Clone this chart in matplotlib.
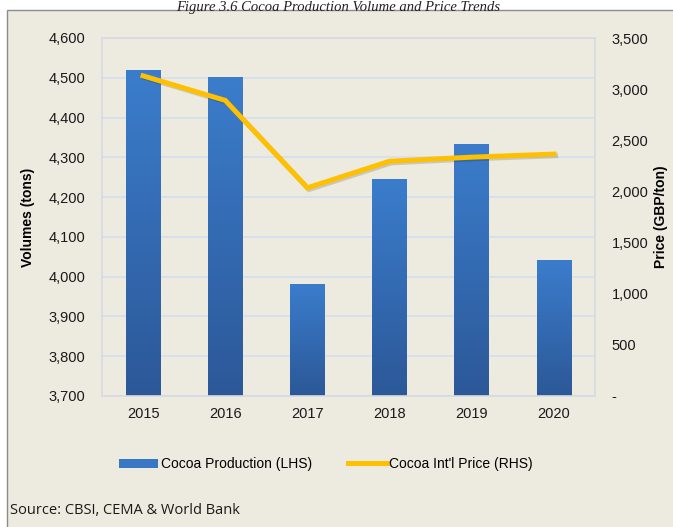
import matplotlib
matplotlib.use("Agg")
import matplotlib.pyplot as plt
import matplotlib.patheffects as pe
from matplotlib.patches import Rectangle
from matplotlib.ticker import FuncFormatter
import numpy as np

years = ["2015", "2016", "2017", "2018", "2019", "2020"]
production = [4520, 4502, 3982, 4246, 4334, 4042]
price = [3130, 2890, 2035, 2295, 2335, 2365]

BG = "#edeae0"
GRID = "#d3def0"
FRAME = "#d6dbe2"
LINE = "#ffc000"

plt.rcParams["font.family"] = ["Liberation Sans", "DejaVu Sans"]

fig = plt.figure(figsize=(6.73, 5.27), dpi=100, facecolor="white")
# outer chart box
fig.patches.append(Rectangle((7 / 673, -0.01), 1.0, (527 - 10) / 527 + 0.01,
                             transform=fig.transFigure, facecolor=BG,
                             edgecolor="#8c8c8c", linewidth=1.0, zorder=-5))
fig.text(0.502, 1.0 - 7 / 527, "Figure 3.6 Cocoa Production Volume and Price Trends",
         ha="center", va="center", fontsize=10.5, style="italic",
         family="Liberation Serif", color="#222222")

ax = fig.add_axes([102 / 673, 1 - 396 / 527, (595 - 102) / 673, (396 - 38) / 527])
ax.set_facecolor(BG)
x = np.arange(len(years))
bars = ax.bar(x, production, width=0.42, color="#3877c4", zorder=2)

# vertical gradient inside each bar
grad = np.linspace(0, 1, 256).reshape(-1, 1)
cmap = matplotlib.colors.LinearSegmentedColormap.from_list("b", ["#2c5898", "#3b7dcc"])
for b in bars:
    x0 = b.get_x()
    im = ax.imshow(grad, extent=(x0, x0 + b.get_width(), 3700, b.get_height()),
                   origin="lower", aspect="auto", cmap=cmap, zorder=2.1)
    im.set_clip_path(b)

ax.set_xlim(-0.5, len(years) - 0.5)
ax.set_ylim(3700, 4600)
ax.set_yticks(np.arange(3700, 4601, 100))
ax.yaxis.set_major_formatter(FuncFormatter(lambda v, p: f"{v:,.0f}"))
ax.set_xticks(x)
ax.set_xticklabels(years)
ax.grid(axis="y", color=GRID, linewidth=1.2, zorder=0)
for s in ax.spines.values():
    s.set_color(FRAME)
    s.set_linewidth(1.2)
ax.tick_params(length=0, labelsize=10.5, colors="#1a1a1a")
ax.tick_params(axis="y", pad=12)
ax.tick_params(axis="x", pad=8)
ax.set_ylabel("Volumes (tons)", fontsize=10, fontweight="bold")
ax.yaxis.set_label_coords(-0.136, 0.5)

ax2 = ax.twinx()
ax2.plot(x, price, color=LINE, linewidth=3.6, solid_joinstyle="miter", zorder=3,
         path_effects=[pe.SimpleLineShadow(offset=(1.2, -1.2), alpha=0.15),
                       pe.Normal()])
ax2.set_ylim(0, 3500)
ax2.set_yticks(np.arange(0, 3501, 500))
ax2.yaxis.set_major_formatter(FuncFormatter(lambda v, p: "-" if v == 0 else f"{v:,.0f}"))
ax2.tick_params(length=0, labelsize=10.5, colors="#1a1a1a", pad=12)
for s in ax2.spines.values():
    s.set_visible(False)
ax2.set_ylabel("Price (GBP/ton)", fontsize=10, fontweight="bold", rotation=90,
               va="center")
ax2.yaxis.set_label_coords(1.134, 0.5)

# legend
h1 = Rectangle((0, 0), 1, 1, facecolor="#3877c4")
h2 = plt.Line2D([], [], color=LINE, linewidth=3.6)
fig.legend([h1, h2], ["Cocoa Production (LHS)", "Cocoa Int'l Price (RHS)"],
           loc="center", bbox_to_anchor=(326 / 673, 1 - 464 / 527), ncol=2,
           frameon=False, fontsize=10, handlelength=2.8, handleheight=0.6,
           handletextpad=0.2, columnspacing=2.6)

fig.text(10 / 673, 1 - 511 / 527, "Source: CBSI, CEMA & World Bank", ha="left",
         va="center", fontsize=10.5, family=["Open Sans", "DejaVu Sans"],
         color="#1a1a1a")

fig.savefig("out.png", dpi=100, facecolor="white")
